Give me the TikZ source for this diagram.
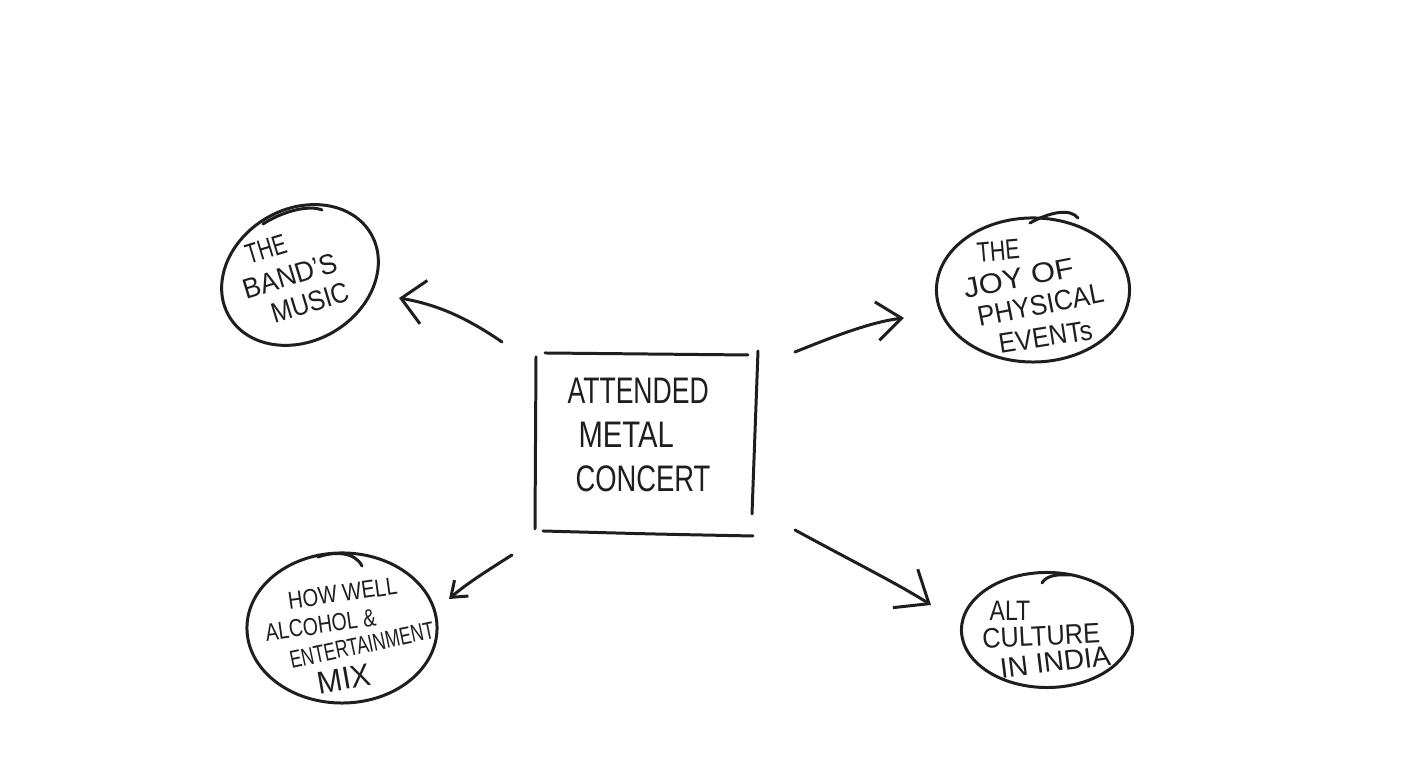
\documentclass[tikz,border=0pt]{standalone}
\usepackage{fontspec}
\setmainfont{Liberation Sans}
\usetikzlibrary{arrows.meta,shapes.geometric}
\definecolor{ink}{HTML}{1E1E1E}
\begin{document}
\begin{tikzpicture}[x=0.01cm,y=-0.01cm,
  pen/.style={line width=0.85pt, line cap=round, line join=round, draw=ink},
  bubble/.style={ellipse, pen, inner sep=0pt},
  boxtxt/.style={font=\fontsize{10.5}{12}\selectfont, xscale=0.72, inner sep=0pt, anchor=west, text=ink, text height=0.72em, text depth=0pt},
  btxt/.style={font=\fontsize{8}{9}\selectfont, inner sep=0pt, text=ink, text height=0.72em, text depth=0pt},
  headA/.style={-{Straight Barb[length=6.5pt,width=12.5pt]}},
  headB/.style={-{Straight Barb[length=7pt,width=11pt]}},
  headC/.style={-{Straight Barb[length=4pt,width=6pt]}},
  headD/.style={-{Straight Barb[length=8pt,width=13pt]}}
]
\useasboundingbox (0,0) rectangle (1426,762);
\fill[white] (0,0) rectangle (1426,762);

% central box
\node[minimum width=2.2cm, minimum height=1.8cm, inner sep=0pt] (box) at (646,443) {};
\draw[pen] (545,353) -- (748,355);
\draw[pen] (536,357) -- (535,529);
\draw[pen] (543,531) .. controls (650,534) .. (753,536);
\draw[pen] (758,351) -- (752,514);
\node[boxtxt] (c1) at (567,391) {ATTENDED};
\node[boxtxt, xscale=1.1] (c2) at (578,435) {METAL};
\node[boxtxt, xscale=1.03] (c3) at (575,479) {CONCERT};

% top-left bubble
\node[bubble, minimum width=1.64cm, minimum height=1.32cm, rotate=30] (band) at (300,275) {};
\draw[pen] (263,224) .. controls (285,210) and (310,205) .. (322,210);
\node[btxt, rotate=17, xscale=0.74] (b1) at (265,246) {THE};
\node[btxt, rotate=17, xscale=0.94] (b2) at (289,273) {BAND'S};
\node[btxt, rotate=17, xscale=0.88] (b3) at (309,300) {MUSIC};

% top-right bubble
\node[bubble, minimum width=1.93cm, minimum height=1.44cm] (joy) at (1033,290) {};
\draw[pen] (1030,223) .. controls (1050,212) and (1070,208) .. (1078,218);
\node[btxt, rotate=5, xscale=0.76] (j1) at (998,248) {THE};
\node[btxt, rotate=11, xscale=1.1] (j2) at (1018,275) {JOY OF};
\node[btxt, rotate=11, xscale=0.92] (j3) at (1040,302) {PHYSICAL};
\node[btxt, rotate=9, xscale=0.9] (j4) at (1045,334) {EVENTs};

% bottom-left bubble
\node[bubble, minimum width=1.90cm, minimum height=1.50cm] (mix) at (342,628) {};
\draw[pen] (318,557) .. controls (335,551) and (355,552) .. (362,566);
\node[btxt, font=\fontsize{7}{8}\selectfont, rotate=8, xscale=0.82] (m1) at (342,589) {HOW WELL};
\node[btxt, font=\fontsize{7}{8}\selectfont, rotate=8, xscale=0.79] (m2) at (320,621) {ALCOHOL \&};
\node[btxt, font=\fontsize{7}{8}\selectfont, rotate=12, xscale=0.71] (m3) at (361,641) {ENTERTAINMENT};
\node[btxt, font=\fontsize{9}{10}\selectfont, rotate=10, xscale=0.95] (m4) at (344,677) {MIX};

% bottom-right bubble
\node[bubble, minimum width=1.71cm, minimum height=1.15cm] (alt) at (1047,630) {};
\draw[pen] (1042,583) .. controls (1046,576) and (1056,574) .. (1070,575);
\node[btxt, xscale=0.82] (l1) at (1010,608) {ALT};
\node[btxt, rotate=3, xscale=0.9] (l2) at (1041,633) {CULTURE};
\node[btxt, rotate=7, xscale=1.0] (l3) at (1055,659) {IN INDIA};

% arrows
\coordinate (a1s) at (502,342); \coordinate (a1e) at (399,298);
\coordinate (a2s) at (795,352); \coordinate (a2e) at (904,318);
\coordinate (a3s) at (512,555); \coordinate (a3e) at (449,599);
\coordinate (a4s) at (795,530); \coordinate (a4e) at (931,605);
\draw[pen, headA] (a1s) .. controls (470,320) and (440,305) .. (a1e);
\draw[pen, headB] (a2s) .. controls (830,338) and (870,322) .. (a2e);
\draw[pen, headC] (a3s) .. controls (485,572) and (465,585) .. (a3e);
\draw[pen, headD] (a4s) .. controls (850,560) and (900,585) .. (a4e);
\end{tikzpicture}
\end{document}
